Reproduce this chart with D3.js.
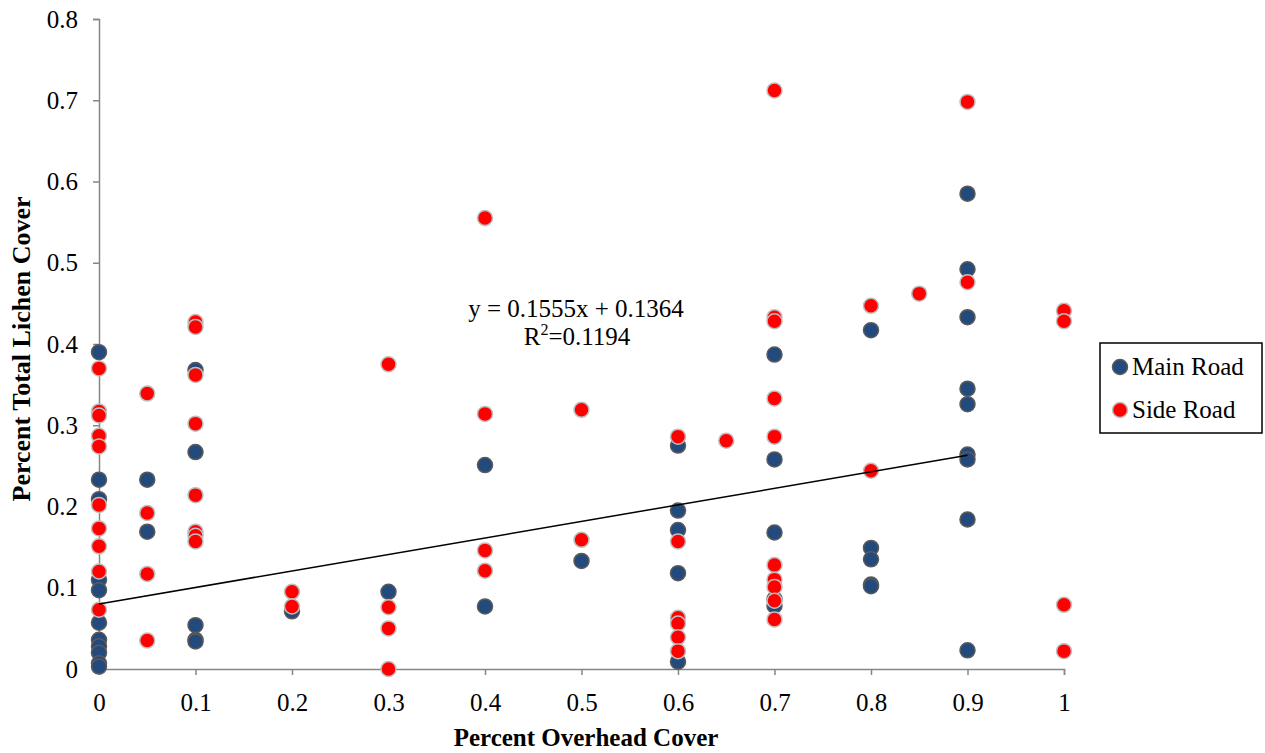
<!DOCTYPE html>
<html><head>
<meta charset="utf-8">
<script src="https://d3js.org/d3.v7.min.js"></script>
<style>
  body { margin: 0; background: #fff; }
  text { font-family: "Liberation Serif", "Times New Roman", serif; }
</style>
</head>
<body>
<svg id="chart" width="1265" height="753"></svg>
<script>

// Main Road points (x = overhead cover, y = lichen cover)
const mainX = [0,0,0,0,0,0,0,0,0,0,0,
               0.05,0.05,
               0.1,0.1,0.1,0.1,0.1,
               0.2, 0.3, 0.4,0.4, 0.5,
               0.6,0.6,0.6,0.6,0.6,
               0.7,0.7,0.7,0.7,0.7,
               0.8,0.8,0.8,0.8,0.8,
               0.9,0.9,0.9,0.9,0.9,0.9,0.9,0.9,0.9];
const mainY = [0.390,0.233,0.209,0.110,0.097,0.057,0.036,0.028,0.020,0.007,0.003,
               0.233,0.169,
               0.368,0.267,0.054,0.036,0.034,
               0.071, 0.095, 0.251,0.077, 0.133,
               0.275,0.195,0.171,0.118,0.009,
               0.387,0.258,0.168,0.086,0.078,
               0.417,0.149,0.135,0.104,0.102,
               0.585,0.492,0.433,0.345,0.326,0.264,0.258,0.184,0.023];

// Side Road points
const sideX = [0,0,0,0,0,0,0,0,0,0,
               0.05,0.05,0.05,0.05,
               0.1,0.1,0.1,0.1,0.1,0.1,0.1,0.1,
               0.2,0.2,
               0.3,0.3,0.3,0.3,
               0.4,0.4,0.4,0.4,
               0.5,0.5,
               0.6,0.6,0.6,0.6,0.6,0.6,
               0.65,
               0.7,0.7,0.7,0.7,0.7,0.7,0.7,0.7,0.7,0.7,
               0.8,0.8, 0.85,
               0.9,0.9,
               1,1,1,1];
const sideY = [0.370,0.317,0.312,0.287,0.274,0.202,0.173,0.151,0.120,0.073,
               0.339,0.192,0.117,0.035,
               0.427,0.421,0.362,0.302,0.214,0.169,0.164,0.157,
               0.095,0.077,
               0.375,0.076,0.050,0.000,
               0.555,0.314,0.146,0.121,
               0.319,0.159,
               0.286,0.157,0.063,0.056,0.039,0.022,
               0.281,
               0.712,0.433,0.428,0.333,0.286,0.128,0.110,0.101,0.084,0.061,
               0.447,0.244, 0.462,
               0.698,0.476,
               0.441,0.428,0.079,0.022];

// trendline as drawn
const trendX = [0, 0.9];
const trendY = [0.080, 0.263];

const xTicks = [0,0.1,0.2,0.3,0.4,0.5,0.6,0.7,0.8,0.9,1];
const yTicks = [0,0.1,0.2,0.3,0.4,0.5,0.6,0.7,0.8];

const svg = d3.select("#chart");
const x = d3.scaleLinear().domain([0,1]).range([99,1064]);
const y = d3.scaleLinear().domain([0,0.8]).range([669,19]);
const axisColor = "#868686";
const fs = 25;

// axes
const xAxis = svg.append("g").attr("transform","translate(0,669)")
  .call(d3.axisBottom(x).tickValues(xTicks).tickSizeOuter(0).tickSize(6).tickPadding(18)
        .tickFormat(d => d3.format("")(d)));
const yAxis = svg.append("g").attr("transform","translate(99,0)")
  .call(d3.axisLeft(y).tickValues(yTicks).tickSizeOuter(0).tickSize(6).tickPadding(15)
        .tickFormat(d => d3.format("")(d)));
[xAxis, yAxis].forEach(a => {
  a.attr("font-family", null).attr("font-size", null);
  a.select(".domain").attr("stroke", axisColor).attr("stroke-width", 1.5);
  a.selectAll(".tick line").attr("stroke", axisColor).attr("stroke-width", 1.5);
  a.selectAll(".tick text").attr("font-size", fs).attr("fill", "#000");
});

// points: main road first, side road on top
svg.append("g").selectAll("circle").data(mainX.map((d,i) => [d, mainY[i]]))
  .join("circle")
  .attr("cx", d => x(d[0])).attr("cy", d => y(d[1])).attr("r", 7.5)
  .attr("fill", "#234a7d").attr("stroke", "#5a5a5a").attr("stroke-width", 1.5);
svg.append("g").selectAll("circle").data(sideX.map((d,i) => [d, sideY[i]]))
  .join("circle")
  .attr("cx", d => x(d[0])).attr("cy", d => y(d[1])).attr("r", 7.5)
  .attr("fill", "#ff0000").attr("stroke", "#bfbfbf").attr("stroke-width", 1.5);

// trendline
svg.append("path")
  .datum(trendX.map((d,i) => [d, trendY[i]]))
  .attr("d", d3.line().x(d => x(d[0])).y(d => y(d[1])))
  .attr("stroke", "#000").attr("stroke-width", 1.5).attr("fill", "none");

// equation label
svg.append("text").attr("x", 576).attr("y", 317)
  .attr("text-anchor", "middle").attr("font-size", fs)
  .text("y = 0.1555x + 0.1364");
const r2 = svg.append("text").attr("x", 577).attr("y", 345)
  .attr("text-anchor", "middle").attr("font-size", fs);
r2.append("tspan").text("R");
r2.append("tspan").attr("font-size", 16).attr("dy", -10).text("2");
r2.append("tspan").attr("dy", 10).text("=0.1194");

// axis titles
svg.append("text").attr("x", 586).attr("y", 746)
  .attr("text-anchor", "middle").attr("font-size", 25).attr("font-weight", "bold")
  .text("Percent Overhead Cover");
svg.append("text").attr("transform", "translate(30,349) rotate(-90)")
  .attr("text-anchor", "middle").attr("font-size", 26).attr("font-weight", "bold")
  .text("Percent Total Lichen Cover");

// legend
const legend = svg.append("g");
legend.append("rect").attr("x", 1100).attr("y", 343).attr("width", 162).attr("height", 90)
  .attr("fill", "#fff").attr("stroke", "#000").attr("stroke-width", 1.5);
const legendItems = [
  {name: "Main Road", fill: "#234a7d", stroke: "#5a5a5a"},
  {name: "Side Road", fill: "#ff0000", stroke: "#bfbfbf"}
];
legendItems.forEach((d, i) => {
  const cy = 367 + i * 43;
  legend.append("circle").attr("cx", 1120).attr("cy", cy).attr("r", 7.5)
    .attr("fill", d.fill).attr("stroke", d.stroke).attr("stroke-width", 1.5);
  legend.append("text").attr("x", 1132).attr("y", cy + 8).attr("font-size", fs)
    .text(d.name);
});

</script>
</body>
</html>
